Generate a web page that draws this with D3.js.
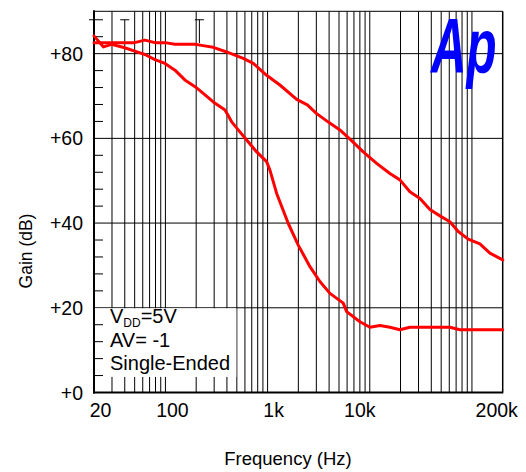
<!DOCTYPE html>
<html><head><meta charset="utf-8">
<script src="https://cdn.jsdelivr.net/npm/d3@7"></script>
<style>html,body{margin:0;padding:0;background:#fff}svg{display:block}</style>
</head><body>
<svg id="c" width="526" height="472"></svg>
<script>
// Upper curve
const freqA = [20, 34, 50, 63, 79, 99, 124, 195, 233, 294, 397, 578, 724, 978, 1320, 1925, 2450, 3000, 3900, 5100, 6400, 8630, 11670, 15740, 19730, 24700, 31000, 38800, 48600, 60900, 73400, 91900, 119600, 150000, 200000];
const gainA = [82.6, 82.6, 82.6, 83.2, 82.6, 82.6, 82.2, 82.2, 81.9, 81.5, 80.4, 78.9, 77.7, 74.9, 72.6, 69.2, 67.9, 65.9, 63.9, 62.0, 59.8, 56.8, 54.1, 51.7, 50.2, 47.4, 45.8, 43.2, 41.7, 40.3, 38.0, 36.2, 35.1, 32.9, 31.3];
// Lower curve
const freqB = [20, 24.7, 29.8, 40, 50, 63, 79, 99, 124, 155, 195, 233, 294, 383, 445, 516, 624, 782, 978, 1054, 1227, 1594, 1996, 2597, 3250, 4076, 5500, 5940, 8010, 10040, 12580, 15740, 19730, 24700, 60900, 76200, 200000];
const gainB = [84.2, 81.6, 82.2, 81.4, 80.6, 79.8, 78.6, 77.7, 76.1, 73.8, 72.2, 70.7, 68.6, 66.7, 63.9, 62.0, 59.6, 56.8, 54.5, 52.5, 47.0, 39.9, 34.8, 29.7, 26.2, 23.4, 21.1, 19.1, 16.7, 15.4, 15.8, 15.4, 14.8, 15.4, 15.4, 14.8, 14.8];

const yTickValues = [0, 20, 40, 60, 80];
const yTickLabels = ["+0", "+20", "+40", "+60", "+80"];
const xTickValues = [20, 100, 1000, 10000, 200000];
const xTickLabels = ["20", "100", "1k", "10k", "200k"];
const legendLines = ["AV= -1", "Single-Ended"];

const svg = d3.select("#c");
const x = d3.scaleLog().domain([20, 200000]).range([94, 502.7]);
const y = d3.scaleLinear().domain([0, 90]).range([392.5, 11.3]);
const font = "Arial, 'Liberation Sans', Helvetica, sans-serif";

// vertical grid lines (every minor log tick)
const gridF = [];
for (let d = 10; d <= 100000; d *= 10) for (let m = 1; m <= 9; m++) { const f = d * m; if (f > 20 && f < 200000) gridF.push(f); }
svg.append("g").selectAll("line").data(gridF).join("line")
  .attr("x1", d => x(d)).attr("x2", d => x(d))
  .attr("y1", d => d === 40 ? y(88) : y(90)).attr("y2", y(0))
  .attr("stroke", "#000").attr("stroke-width", 1);
// horizontal grid lines
svg.append("g").selectAll("line").data([20, 40, 60, 80]).join("line")
  .attr("x1", x(20)).attr("x2", x(200000)).attr("y1", d => y(d)).attr("y2", d => y(d))
  .attr("stroke", "#000").attr("stroke-width", 1);

// legend box (white background)
svg.append("rect").attr("x", x(20) + 1).attr("y", y(20) + 0.5)
  .attr("width", x(500) - x(20) - 1.5).attr("height", y(3.8) - y(20))
  .attr("fill", "#fff");

// frame
svg.append("line").attr("x1", x(20)).attr("x2", x(200000)).attr("y1", y(90)).attr("y2", y(90)).attr("stroke", "#000").attr("stroke-width", 1);
svg.append("line").attr("x1", x(200000)).attr("x2", x(200000)).attr("y1", y(90)).attr("y2", y(0)).attr("stroke", "#000").attr("stroke-width", 1.5);
svg.append("line").attr("x1", x(20)).attr("x2", x(20)).attr("y1", y(90) - 1).attr("y2", y(0) + 1).attr("stroke", "#000").attr("stroke-width", 2);
svg.append("line").attr("x1", x(20) - 1).attr("x2", x(200000) + 0.5).attr("y1", y(0)).attr("y2", y(0)).attr("stroke", "#000").attr("stroke-width", 2);

// minor y ticks
const minorY = d3.range(4, 90, 4).filter(v => v % 20 !== 0);
svg.append("g").selectAll("line").data(minorY).join("line")
  .attr("x1", d => d === 88 ? x(20) - 5 : x(20)).attr("x2", x(20) + 9)
  .attr("y1", d => y(d)).attr("y2", d => y(d)).attr("stroke", "#000").attr("stroke-width", 1);
// T caps
svg.append("line").attr("x1", x(40) - 4.5).attr("x2", x(40) + 4.5).attr("y1", y(88)).attr("y2", y(88)).attr("stroke", "#000");
svg.append("line").attr("x1", x(215) - 4.5).attr("x2", x(215) + 4.5).attr("y1", y(88)).attr("y2", y(88)).attr("stroke", "#000");
svg.append("line").attr("x1", x(215)).attr("x2", x(215)).attr("y1", y(88)).attr("y2", y(82.5)).attr("stroke", "#000");

// curves
const line = d3.line().x(d => x(d[0])).y(d => y(d[1]));
[[freqA, gainA], [freqB, gainB]].forEach(([f, g]) => {
  svg.append("path").datum(f.map((v, i) => [v, g[i]])).attr("d", line)
    .attr("fill", "none").attr("stroke", "#ff0000").attr("stroke-width", 3)
    .attr("stroke-linejoin", "round").attr("stroke-linecap", "round");
});

// y tick labels
svg.append("g").selectAll("text").data(yTickValues).join("text")
  .attr("x", 83).attr("y", d => y(d)).attr("dy", "0.36em")
  .attr("text-anchor", "end").attr("font-family", font).attr("font-size", 19.5)
  .text((d, i) => yTickLabels[i]);
// x tick labels
const xLabelShift = [6.5, 7, 6, -10, -6];
svg.append("g").selectAll("text").data(xTickValues).join("text")
  .attr("x", (d, i) => x(d) + xLabelShift[i]).attr("y", 416.7)
  .attr("text-anchor", "middle").attr("font-family", font).attr("font-size", 19.5)
  .text((d, i) => xTickLabels[i]);

// axis titles
svg.append("text").attr("x", 288).attr("y", 465).attr("text-anchor", "middle")
  .attr("font-family", font).attr("font-size", 18.5).text("Frequency (Hz)");
svg.append("text").attr("transform", "translate(32,251) rotate(-90)").attr("text-anchor", "middle")
  .attr("font-family", font).attr("font-size", 17.5).text("Gain (dB)");

// legend text
const lg = svg.append("g").attr("font-family", font).attr("font-size", 20);
const t0 = lg.append("text").attr("x", 110).attr("y", 323);
t0.append("tspan").text("V");
t0.append("tspan").attr("font-size", 12).attr("dy", 4).text("DD");
t0.append("tspan").attr("dy", -4).text("=5V");
lg.selectAll("text.l").data(legendLines).join("text").attr("class", "l")
  .attr("x", 110).attr("y", (d, i) => 347 + i * 22.5).text(d => d);

// logo
svg.append("text").attr("transform", "translate(431,73) scale(0.64,1)")
  .attr("font-family", font).attr("font-size", 77).attr("font-weight", "bold").attr("font-style", "italic")
  .attr("fill", "#0000ff").text("Ap");
</script>
</body></html>
